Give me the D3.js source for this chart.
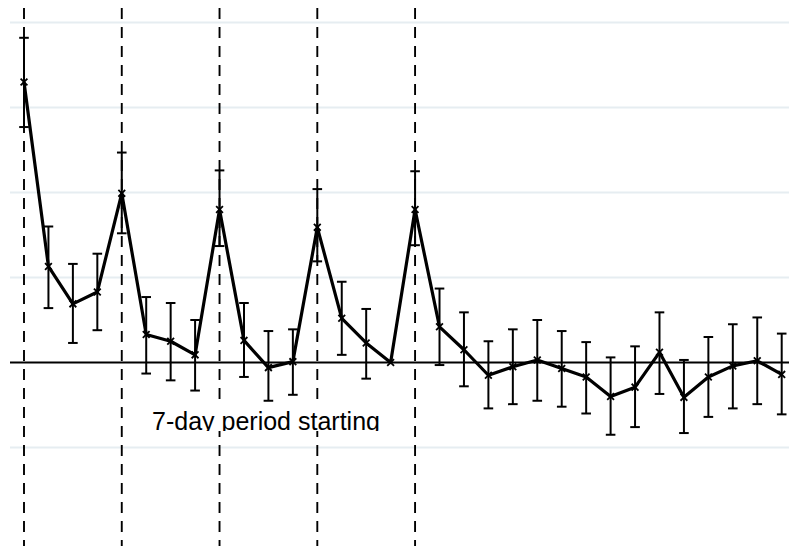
<!DOCTYPE html>
<html>
<head>
<meta charset="utf-8">
<script src="https://cdn.jsdelivr.net/npm/d3@7"></script>
<style>
  html, body { margin: 0; padding: 0; background: #fff; }
  svg { display: block; }
</style>
</head>
<body>
<div id="chart"></div>
<script>
// Period index of each estimate (4 estimates per 7-day period)
const periods = [0, 1, 2, 3, 4, 5, 6, 7, 8, 9, 10, 11, 12, 13, 14, 15,
  16, 17, 18, 19, 20, 21, 22, 23, 24, 25, 26, 27, 28, 29, 30, 31];
// Point estimates
const estimates = [0.330, 0.113, 0.069, 0.083, 0.199, 0.033, 0.025, 0.009,
  0.180, 0.026, -0.006, 0.001, 0.159, 0.052, 0.023, 0.000,
  0.180, 0.042, 0.015, -0.015, -0.005, 0.003, -0.007, -0.017,
  -0.040, -0.029, 0.012, -0.041, -0.017, -0.004, 0.002, -0.014];
// Upper confidence bounds (null = reference period, no interval)
const upper = [0.382, 0.160, 0.116, 0.128, 0.247, 0.077, 0.070, 0.050,
  0.226, 0.070, 0.037, 0.039, 0.204, 0.095, 0.063, null,
  0.225, 0.087, 0.059, 0.025, 0.039, 0.050, 0.037, 0.024,
  0.006, 0.019, 0.059, 0.003, 0.030, 0.045, 0.053, 0.034];
// Lower confidence bounds
const lower = [0.277, 0.064, 0.023, 0.038, 0.152, -0.013, -0.021, -0.033,
  0.137, -0.017, -0.045, -0.038, 0.119, 0.009, -0.019, null,
  0.138, -0.003, -0.028, -0.054, -0.049, -0.045, -0.052, -0.060,
  -0.085, -0.076, -0.037, -0.083, -0.064, -0.054, -0.049, -0.061];
// Periods where a new 7-day period starts
const periodStarts = [0, 4, 8, 12, 16];
// Horizontal gridlines
const gridValues = [-0.1, 0.1, 0.2, 0.3, 0.4];
const xLabel = "7-day period starting";

const width = 789;
const height = 549;

const data = periods.map((p, i) => ({
  period: p, est: estimates[i], hi: upper[i], lo: lower[i]
}));

const svg = d3.select("#chart").append("svg")
  .attr("width", width)
  .attr("height", height)
  .style("background-color", "#fff");

const x = d3.scaleLinear().domain([0, 31]).range([24, 781.7]);
const y = d3.scaleLinear().domain([-0.2, 0.4]).range([532.5, 22.5]);

// Light gridlines
svg.append("g")
  .selectAll("line")
  .data(gridValues)
  .enter()
  .append("line")
  .attr("x1", 10)
  .attr("x2", width)
  .attr("y1", d => y(d))
  .attr("y2", d => y(d))
  .style("stroke", "#e6edf1")
  .style("stroke-width", 1.8);

// Zero line
svg.append("line")
  .attr("x1", 10)
  .attr("x2", width)
  .attr("y1", y(0))
  .attr("y2", y(0))
  .style("stroke", "#000")
  .style("stroke-width", 2);

// Dashed lines at start of each period
svg.append("g")
  .selectAll("line")
  .data(periodStarts)
  .enter()
  .append("line")
  .attr("x1", d => x(d))
  .attr("x2", d => x(d))
  .attr("y1", 8)
  .attr("y2", 546)
  .style("stroke", "#000")
  .style("stroke-width", 1.9)
  .style("stroke-dasharray", "11,8");

// Label box with clipped text
const labelTop = 406;
const labelBottom = 431;
svg.append("clipPath")
  .attr("id", "labelClip")
  .append("rect")
  .attr("x", 140)
  .attr("y", labelTop)
  .attr("width", 255)
  .attr("height", labelBottom - labelTop);

svg.append("rect")
  .attr("x", 146)
  .attr("y", labelTop)
  .attr("width", 242)
  .attr("height", labelBottom - labelTop)
  .style("fill", "#fff");

svg.append("text")
  .attr("clip-path", "url(#labelClip)")
  .attr("x", 266)
  .attr("y", 429.5)
  .attr("text-anchor", "middle")
  .style("font-family", "'Liberation Sans', Arial, Helvetica, sans-serif")
  .style("font-size", "25px")
  .style("fill", "#000")
  .text(xLabel);

// Error bars
const withCI = data.filter(d => d.hi !== null);
const bars = svg.append("g")
  .selectAll("g")
  .data(withCI)
  .enter()
  .append("g");

bars.append("line")
  .attr("x1", d => x(d.period))
  .attr("x2", d => x(d.period))
  .attr("y1", d => y(d.hi))
  .attr("y2", d => y(d.lo))
  .style("stroke", "#000")
  .style("stroke-width", 2);

const capHalf = 4.8;
bars.append("line")
  .attr("x1", d => x(d.period) - capHalf)
  .attr("x2", d => x(d.period) + capHalf)
  .attr("y1", d => y(d.hi))
  .attr("y2", d => y(d.hi))
  .style("stroke", "#000")
  .style("stroke-width", 2);

bars.append("line")
  .attr("x1", d => x(d.period) - capHalf)
  .attr("x2", d => x(d.period) + capHalf)
  .attr("y1", d => y(d.lo))
  .attr("y2", d => y(d.lo))
  .style("stroke", "#000")
  .style("stroke-width", 2);

// Connecting line
const line = d3.line()
  .x(d => x(d.period))
  .y(d => y(d.est));

svg.append("path")
  .datum(data)
  .attr("d", line)
  .style("fill", "none")
  .style("stroke", "#000")
  .style("stroke-width", 3.2)
  .style("stroke-linejoin", "round");

// X markers
const m = 3.4;
svg.append("g")
  .selectAll("path")
  .data(data)
  .enter()
  .append("path")
  .attr("d", d => {
    const cx = x(d.period);
    const cy = y(d.est);
    return `M${cx - m},${cy - m}L${cx + m},${cy + m}M${cx - m},${cy + m}L${cx + m},${cy - m}`;
  })
  .style("stroke", "#000")
  .style("stroke-width", 1.8);
</script>
</body>
</html>
